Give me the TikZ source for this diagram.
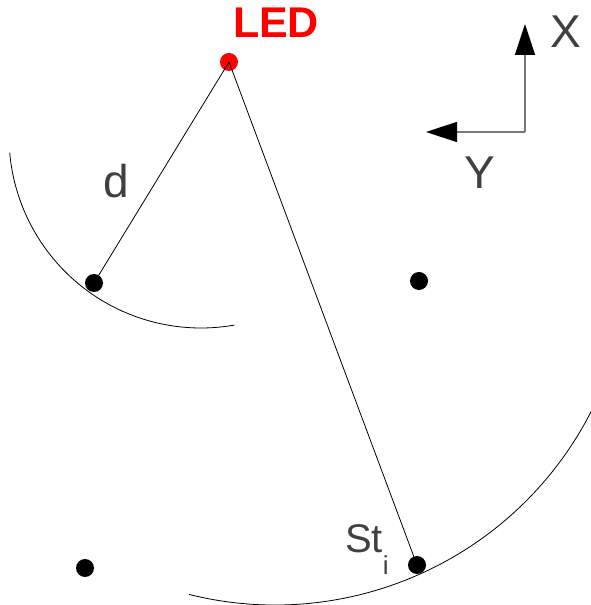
\documentclass[tikz,border=0pt]{standalone}
\usepackage{fontspec}
\setmainfont{Liberation Sans}
\usepackage{xcolor}
\definecolor{ledred}{RGB}{255,0,0}
\definecolor{txtgray}{RGB}{64,64,64}
\definecolor{axgray}{RGB}{120,120,120}
\usetikzlibrary{arrows.meta,positioning}

\begin{document}
\begin{tikzpicture}[x=1pt,y=1pt,>=Stealth,
    station/.style={circle,fill=black,inner sep=0pt,minimum size=18pt},
    lbl/.style={inner sep=0pt,anchor=base,text=txtgray,font=\fontsize{46}{46}\selectfont},
    axis/.style={line width=1.5pt,axgray,-{Triangle[length=31pt,width=20pt,color=black]}}]
  \useasboundingbox (0,0) rectangle (590,605);
  %% LED and stations
  \node[station,fill=ledred] (led) at (229,543) {};
  \node[station] (st1) at (94,322) {};
  \node[station] (st2) at (419,324) {};
  \node[station] (st3) at (85,37) {};
  \node[station] (sti) at (417,40) {};
  %% Distances
  \draw[line width=0.8pt] (led.center) -- (st1.center);
  \draw[line width=0.8pt] (led.center) -- (sti.center);
  %% Range arcs
  \draw[line width=0.8pt] (201,469) ++(185:192) arc[start angle=185,end angle=280,radius=192];
  \draw[line width=0.8pt] (275,355) ++(256:355) arc[start angle=256,end angle=333,radius=355];
  %% Labels
  \node[inner sep=0pt,anchor=base,text=ledred,font=\fontsize{43}{43}\selectfont\bfseries]
    (ledlbl) at (276,567) {LED};
  \node[lbl] (dlbl) at (116,407) {d};
  \node[lbl,anchor=base west,font=\fontsize{40}{40}\selectfont] (stlbl) at (345,52)
    {St\raisebox{-22pt}{\fontsize{26}{26}\selectfont i}};
  %% Axes
  \coordinate (o) at (525,473);
  \coordinate (xtip) at (525,581);
  \coordinate (ytip) at (426,473);
  \draw[axis] (o) -- (xtip);
  \draw[axis] (o) -- (ytip);
  \node[lbl] (xlbl) at (566,557) {X};
  \node[lbl] (ylbl) at (480,416) {Y};
\end{tikzpicture}
\end{document}
